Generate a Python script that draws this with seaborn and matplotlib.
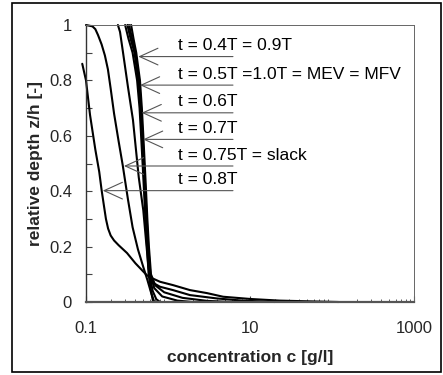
import numpy as np
import pandas as pd
import matplotlib
matplotlib.use("Agg")
import matplotlib.pyplot as plt
from matplotlib.patches import Rectangle
from matplotlib.ticker import LogLocator, FixedLocator, NullFormatter
import seaborn as sns

# ---------------- data ----------------
# t = 0.8T
c_08 = [0.09, 0.10, 0.112, 0.13, 0.145, 0.155, 0.165, 0.175, 0.186, 0.20, 0.22, 0.25, 0.316, 0.40, 0.55, 0.65, 0.80, 1.15, 1.85, 3.0, 4.7, 10.0, 23.0, 60.0, 120.0]
z_08 = [0.86, 0.80, 0.675, 0.55, 0.47, 0.404, 0.35, 0.30, 0.265, 0.24, 0.222, 0.205, 0.177, 0.14, 0.097, 0.085, 0.073, 0.061, 0.043, 0.032, 0.019, 0.011, 0.005, 0.002, 0.0]
# t = 0.75T = slack
c_075 = [0.10, 0.12, 0.13, 0.14, 0.155, 0.17, 0.185, 0.20, 0.22, 0.25, 0.28, 0.325, 0.37, 0.43, 0.50, 0.56, 0.62, 0.68]
z_075 = [1.0, 0.995, 0.985, 0.964, 0.93, 0.89, 0.84, 0.77, 0.68, 0.58, 0.495, 0.37, 0.27, 0.19, 0.126, 0.08, 0.035, 0.0]
# unlabelled profile
c_085 = [0.245, 0.26, 0.283, 0.325, 0.374, 0.407, 0.44, 0.50, 0.54, 0.58, 0.65, 0.80, 1.15, 1.85, 3.9, 8.0, 20.0]
z_085 = [1.0, 0.975, 0.90, 0.776, 0.657, 0.549, 0.45, 0.33, 0.22, 0.12, 0.07, 0.055, 0.043, 0.025, 0.013, 0.005, 0.0]
# t = 0.4T = 0.9T
c_04 = [0.30, 0.33, 0.37, 0.42, 0.45, 0.47, 0.49, 0.51, 0.53, 0.555, 0.58, 0.62, 0.66]
z_04 = [1.0, 0.95, 0.90, 0.80, 0.70, 0.60, 0.50, 0.40, 0.30, 0.20, 0.10, 0.04, 0.0]
# t = 0.5T = 1.0T = MEV = MFV
c_05 = [0.32, 0.35, 0.39, 0.435, 0.46, 0.48, 0.50, 0.52, 0.54, 0.565, 0.595, 0.65, 0.72, 0.80]
z_05 = [1.0, 0.95, 0.90, 0.80, 0.70, 0.60, 0.50, 0.40, 0.30, 0.20, 0.10, 0.04, 0.01, 0.0]
# t = 0.6T
c_06 = [0.335, 0.365, 0.40, 0.445, 0.47, 0.49, 0.51, 0.53, 0.55, 0.575, 0.61, 0.68, 0.85, 1.3, 2.0]
z_06 = [1.0, 0.95, 0.90, 0.80, 0.70, 0.60, 0.50, 0.40, 0.30, 0.20, 0.10, 0.05, 0.02, 0.005, 0.0]
# t = 0.7T
c_07 = [0.355, 0.38, 0.41, 0.455, 0.48, 0.50, 0.52, 0.54, 0.56, 0.585, 0.62, 0.70, 0.90, 1.5, 3.0, 6.0]
z_07 = [1.0, 0.95, 0.90, 0.80, 0.70, 0.60, 0.50, 0.40, 0.30, 0.20, 0.10, 0.06, 0.035, 0.015, 0.004, 0.0]

curve_names = ["0.8T", "0.75T", "0.85T", "0.4T", "0.5T", "0.6T", "0.7T"]
curve_c = [c_08, c_075, c_085, c_04, c_05, c_06, c_07]
curve_z = [z_08, z_075, z_085, z_04, z_05, z_06, z_07]

# annotations: label, depth of the pointer line, concentration the arrow points to
ann_labels = ["t = 0.4T = 0.9T", "t = 0.5T =1.0T = MEV = MFV", "t = 0.6T",
              "t = 0.7T", "t = 0.75T = slack", "t = 0.8T"]
ann_z = [0.886, 0.783, 0.683, 0.587, 0.491, 0.402]
ann_tip_c = [0.434, 0.455, 0.477, 0.496, 0.29, 0.16]
ann_text_c = 1.33
ann_end_c = 6.2

x_ticks = [0.1, 10, 1000]
x_ticklabels = ["0.1", "10", "1000"]
y_ticks = [0, 0.2, 0.4, 0.6, 0.8, 1.0]
y_ticklabels = ["0", "0.2", "0.4", "0.6", "0.8", "1"]

# ---------------- drawing ----------------
sns.set_theme(style="white")
plt.rcParams["font.family"] = ["Liberation Sans", "DejaVu Sans"]

fig = plt.figure(figsize=(4.43, 3.75), dpi=100)
ax = fig.add_axes([86 / 443, 1 - 302 / 375, (414 - 86) / 443, (302 - 25) / 375])

rows = []
for name, cs, zs in zip(curve_names, curve_c, curve_z):
    for i, (c, z) in enumerate(zip(cs, zs)):
        rows.append({"curve": name, "order": i, "c": c, "z": z})
df = pd.DataFrame(rows)

sns.lineplot(data=df, x="c", y="z", units="curve", estimator=None, sort=False,
             color="black", lw=1.5, ax=ax, legend=False)
for line in ax.get_lines():
    line.set_clip_on(False)
    line.set_solid_joinstyle("round")

ax.set_xscale("log")
ax.set_xlim(0.1, 1000)
ax.set_ylim(0, 1)

for lab, z, tip in zip(ann_labels, ann_z, ann_tip_c):
    ax.annotate("", xy=(tip, z), xytext=(ann_end_c, z),
                arrowprops=dict(arrowstyle="->,head_length=1.1,head_width=0.5",
                                color="#555555", lw=0.8, mutation_scale=12,
                                shrinkA=0, shrinkB=0))
    ax.text(ann_text_c, z + 0.012, lab, fontsize=12.5, color="black",
            ha="left", va="bottom")

ax.set_xticks(x_ticks)
ax.set_xticklabels(x_ticklabels)
ax.xaxis.set_minor_locator(LogLocator(base=10, subs=np.arange(2, 10), numticks=20))
ax.xaxis.set_minor_formatter(NullFormatter())
ax.set_yticks(y_ticks)
ax.set_yticklabels(y_ticklabels)
ax.yaxis.set_minor_locator(FixedLocator([0.1, 0.3, 0.5, 0.7, 0.9]))

ax.tick_params(axis="x", which="major", direction="in", length=4, width=0.8,
               color="#444444", labelsize=12, pad=14, bottom=True, top=False)
ax.tick_params(axis="x", which="minor", direction="in", length=2.5, width=0.6,
               color="#444444", bottom=True, top=False)
ax.tick_params(axis="y", which="both", direction="in", length=4, width=0.8,
               color="#444444", labelsize=12, pad=10, left=True, right=False)

for side in ["top", "right"]:
    ax.spines[side].set_color("#666666")
    ax.spines[side].set_linewidth(0.7)
ax.spines["left"].set_color("#333333")
ax.spines["left"].set_linewidth(1.0)
ax.spines["bottom"].set_color("#555555")
ax.spines["bottom"].set_linewidth(1.6)

ax.set_xlabel("concentration c [g/l]", fontsize=12.5, fontweight="bold", labelpad=10)
ax.set_ylabel("relative depth z/h [-]", fontsize=12.5, fontweight="bold", labelpad=4)

fig.add_artist(Rectangle((12 / 443, 3 / 375), (441 - 12) / 443, (372 - 3) / 375,
                         transform=fig.transFigure, fill=False, lw=1.2,
                         edgecolor="black"))

fig.savefig("out.png", dpi=100)
